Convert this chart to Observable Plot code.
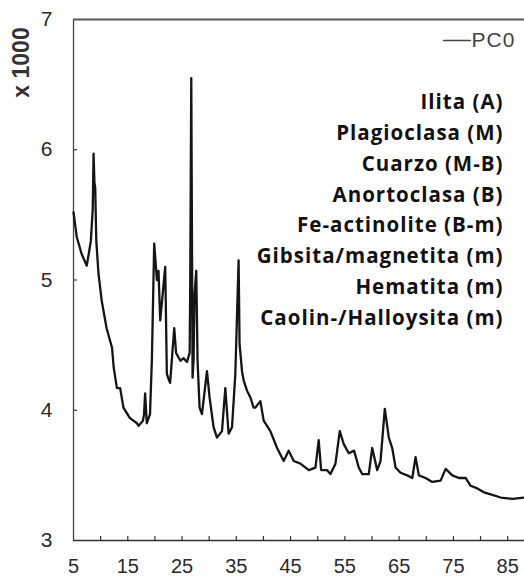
<!DOCTYPE html>
<html>
<head>
<meta charset="utf-8">
<script src="https://cdn.jsdelivr.net/npm/d3@7"></script>
<script src="https://cdn.jsdelivr.net/npm/@observablehq/plot@0.6"></script>
<style>
  html, body { margin: 0; padding: 0; background: #fff; overflow: hidden; }
  #chart svg { display: block; }
</style>
</head>
<body>
<div id="chart"></div>
<script>
// PC0 diffractogram: 2θ position (degrees) and intensity (counts × 1000)
const twoTheta = [5.0,5.6,6.5,7.45,8.2,8.55,8.7,8.85,9.0,9.2,
  9.6,10.2,11.1,12.1,12.4,13.0,13.6,14.2,15.4,16.7,
  17.0,17.8,18.0,18.2,18.5,19.1,19.45,19.87,20.37,20.66,
  20.98,21.9,22.2,22.6,22.8,23.56,23.9,24.7,25.3,25.9,
  26.4,26.5,26.7,26.94,27.12,27.31,27.62,27.86,28.23,28.67,
  29.59,30.07,30.81,31.44,32.36,32.97,33.58,34.21,34.82,35.42,
  35.6,36.05,36.35,36.97,37.58,38.19,38.51,39.43,40.04,41.27,
  42.51,43.73,44.65,45.57,46.81,48.34,49.58,50.18,50.63,51.73,
  52.34,53.27,54.06,54.8,55.72,56.7,57.56,58.19,59.41,60.04,
  60.96,61.57,62.36,63.1,63.73,64.34,65.26,66.49,67.42,68.03,
  68.64,69.87,71.11,72.64,73.57,74.8,76.01,77.25,78.17,79.41,
  80.63,82.18,83.71,85.87,88.1];
const counts = [5.52,5.33,5.2,5.11,5.3,5.55,5.97,5.75,5.71,5.3,
  5.05,4.84,4.63,4.48,4.33,4.17,4.17,4.02,3.94,3.9,
  3.88,3.92,3.97,4.13,3.9,3.97,4.4,5.28,5.0,5.07,
  4.69,5.1,4.28,4.23,4.21,4.63,4.44,4.38,4.4,4.37,
  4.44,4.9,6.55,4.25,4.38,4.9,5.07,4.38,4.02,3.97,
  4.3,4.1,3.87,3.79,3.84,4.17,3.82,3.87,4.28,5.15,
  4.51,4.3,4.23,4.15,4.1,4.02,4.02,4.07,3.92,3.84,
  3.71,3.61,3.69,3.61,3.59,3.54,3.56,3.77,3.54,3.54,
  3.51,3.59,3.84,3.74,3.67,3.69,3.56,3.51,3.51,3.71,
  3.54,3.61,4.01,3.79,3.71,3.56,3.52,3.5,3.48,3.64,
  3.5,3.48,3.45,3.46,3.55,3.5,3.48,3.48,3.42,3.4,
  3.37,3.35,3.33,3.32,3.33];

// Axis ticks and labels
const xLabels = [5, 15, 25, 35, 45, 55, 65, 75, 85];
const xMinorTicks = [10, 15, 20, 25, 30, 35, 40, 45, 50, 55, 60, 65, 70, 75, 80, 85];
const yLabels = [3, 4, 5, 6, 7];
const yMinorTicks = [4, 5, 6];

// Identified phases with relative abundance
const minerals = [
  "Ilita (A)",
  "Plagioclasa (M)",
  "Cuarzo (M-B)",
  "Anortoclasa (B)",
  "Fe-actinolite (B-m)",
  "Gibsita/magnetita (m)",
  "Hematita (m)",
  "Caolin-/Halloysita (m)"
];
const seriesName = "PC0";
const yUnitLabel = "x 1000";

const pattern = twoTheta.map((t, i) => ({t, c: counts[i]}));

const W = 524, H = 577;
const M = {top: 19, right: 0, bottom: 37, left: 73};
const plotW = W - M.left - M.right;
const plotH = H - M.top - M.bottom;
const axisInk = "#333";
const labelFont = "Liberation Sans, Arial, sans-serif";

const chart = Plot.plot({
  width: W,
  height: H,
  marginTop: M.top,
  marginRight: M.right,
  marginBottom: M.bottom,
  marginLeft: M.left,
  style: {background: "#fff", fontFamily: labelFont, color: axisInk},
  x: {domain: [5, 88.1]},
  y: {domain: [3, 7]},
  marks: [
    // tick labels
    Plot.axisX(xLabels, {tickSize: 0, tickPadding: 18, fontSize: 20, label: null,
      tickFormat: d => String(d), fill: "#2a2a2a"}),
    Plot.axisY(yLabels, {tickSize: 0, tickPadding: 21, fontSize: 21, label: null,
      tickFormat: d => String(d), fill: "#2a2a2a"}),
    // short inward ticks
    Plot.tickX(xMinorTicks, {x: d => d, insetTop: plotH - 4, stroke: axisInk, strokeWidth: 1.2}),
    Plot.tickY(yMinorTicks, {y: d => d, insetRight: plotW - 4, stroke: axisInk, strokeWidth: 1.2}),
    // frame: left, bottom and top edges
    Plot.ruleX([5], {stroke: "#444", strokeWidth: 1.3}),
    Plot.ruleY([3], {stroke: "#333", strokeWidth: 1.3}),
    Plot.ruleY([7], {stroke: "#555", strokeWidth: 2}),
    // diffractogram
    Plot.line(pattern, {x: "t", y: "c", stroke: "#151515", strokeWidth: 2.3, strokeLinejoin: "round"}),
    // unit label
    Plot.text([yUnitLabel], {text: d => d, frameAnchor: "top-left", rotate: -90, dx: -52, dy: 43,
      textAnchor: "middle", lineAnchor: "middle", fontSize: 23, fontWeight: 700, fill: "#333"}),
    // legend
    Plot.vector([seriesName], {frameAnchor: "top-right", dx: -81, dy: 21, length: 27, rotate: 90,
      anchor: "start", stroke: "#444", strokeWidth: 1.3,
      shape: {draw(context, l) { context.moveTo(0, 0); context.lineTo(0, -l); }}}),
    Plot.text([seriesName], {text: d => d, frameAnchor: "top-right", dx: -53, dy: 21,
      textAnchor: "start", lineAnchor: "middle", fontSize: 21, fill: "#444"}),
    // phase list
    Plot.text([minerals.join("\n")], {text: d => d, frameAnchor: "top-right", dx: -21, dy: 68,
      textAnchor: "end", lineAnchor: "top", lineHeight: 1.5,
      fontSize: 20.5, fontWeight: 700, fontFamily: "Open Sans", fill: "#111"})
  ]
});

// wider tracking for the phase list and the legend entry
d3.select(chart).selectAll("text")
  .filter(function() { return this.textContent.includes(minerals[0]); })
  .attr("letter-spacing", 1);
d3.select(chart).selectAll("text")
  .filter(function() { return this.textContent === seriesName; })
  .attr("letter-spacing", 1);

document.getElementById("chart").append(chart);
</script>
</body>
</html>
